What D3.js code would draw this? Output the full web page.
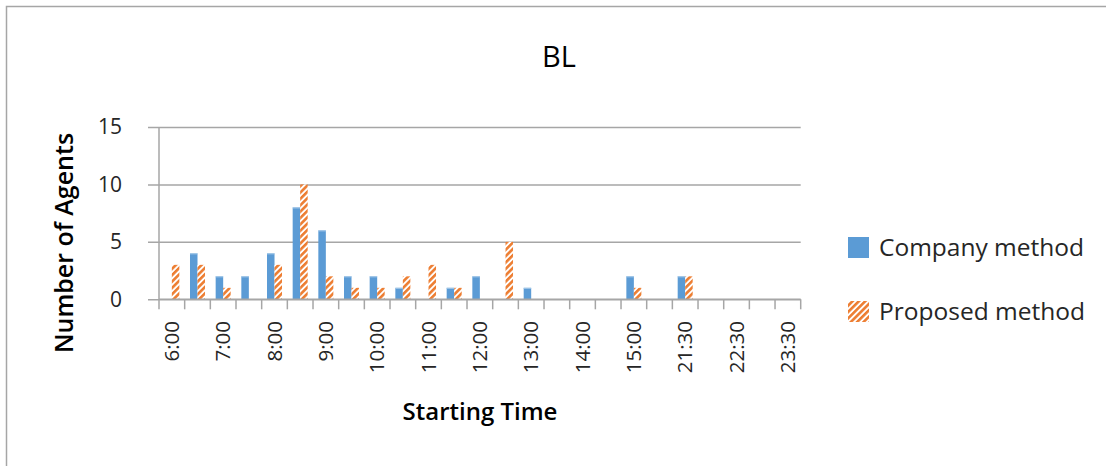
<!DOCTYPE html>
<html>
<head>
<meta charset="utf-8">
<script src="https://cdn.jsdelivr.net/npm/d3@7"></script>
<style>
  html, body { margin: 0; padding: 0; background: #fff; }
  svg { display: block; }
  text { font-family: "Open Sans", "Noto Sans", sans-serif; }
</style>
</head>
<body>
<svg id="chart" width="1106" height="469"></svg>
<script>
// Half-hour starting slots (only every second one gets a printed label)
const categories = [
  "6:00", "6:30", "7:00", "7:30", "8:00", "8:30", "9:00", "9:30",
  "10:00", "10:30", "11:00", "11:30", "12:00", "12:30", "13:00", "13:30",
  "14:00", "14:30", "15:00", "16:00", "21:30", "22:00", "22:30", "23:00", "23:30"
];
const seriesNames = ["Company method", "Proposed method"];
const companyValues = [0, 4, 2, 2, 4, 8, 6, 2, 2, 1, 0, 1, 2, 0, 1, 0, 0, 0, 2, 0, 2, 0, 0, 0, 0];
const proposedValues = [3, 3, 1, 0, 3, 10, 2, 1, 1, 2, 3, 1, 0, 5, 0, 0, 0, 0, 1, 0, 2, 0, 0, 0, 0];
const yTicks = [0, 5, 10, 15];
const chartTitle = "BL";
const xTitle = "Starting Time";
const yTitle = "Number of Agents";

const svg = d3.select("#chart");

// Hatched fill for the proposed series
const defs = svg.append("defs");
const pat = defs.append("pattern")
  .attr("id", "hatch")
  .attr("patternUnits", "userSpaceOnUse")
  .attr("width", 4.5).attr("height", 4.5)
  .attr("patternTransform", "rotate(45)");
pat.append("rect").attr("width", 4.5).attr("height", 4.5).attr("fill", "#fff");
pat.append("rect").attr("x", 0).attr("width", 2.6).attr("height", 4.5).attr("fill", "#ED7D31");

// Outer chart frame (left and top edges)
svg.append("path")
  .attr("d", "M6.5,466 V6.5 H1106")
  .attr("fill", "none").attr("stroke", "#A6A6A6").attr("stroke-width", 1.5);

const plot = { left: 159, right: 800.7, top: 127, bottom: 299.3 };

const x = d3.scaleBand().domain(categories).range([plot.left, plot.right]).padding(0);
const xs = d3.scaleBand().domain(seriesNames).range([0, x.bandwidth()]).paddingOuter(0.71).paddingInner(0);
const y = d3.scaleLinear().domain([0, 15]).range([plot.bottom, plot.top]);

// Horizontal gridlines with outside y ticks
const yAxis = d3.axisLeft(y).tickValues(yTicks).tickSize(-(plot.right - plot.left) - 11).tickFormat("");
const gy = svg.append("g").attr("transform", `translate(${plot.right},0)`).call(yAxis);
gy.select(".domain").remove();
gy.selectAll(".tick line").attr("stroke", "#A6A6A6").attr("stroke-width", 1.5)
  .attr("x1", 0).attr("x2", -(plot.right - plot.left) - 11);

// y tick labels
svg.append("g").selectAll("text").data(yTicks).join("text")
  .attr("x", 122).attr("y", d => y(d)).attr("dy", "0.35em")
  .attr("text-anchor", "end").attr("font-size", 21).attr("fill", "#262626")
  .text(d => d);

// Bars
const rows = categories.map((c, i) => ({ cat: c, vals: [companyValues[i], proposedValues[i]] }));
const groups = svg.append("g").selectAll("g").data(rows).join("g")
  .attr("transform", d => `translate(${x(d.cat)},0)`);
groups.selectAll("rect").data(d => d.vals.map((v, k) => ({ key: seriesNames[k], v })).filter(e => e.v > 0)).join("rect")
  .attr("x", e => xs(e.key))
  .attr("width", xs.bandwidth())
  .attr("y", e => y(e.v))
  .attr("height", e => y(0) - y(e.v))
  .attr("fill", e => e.key === seriesNames[0] ? "#5B9BD5" : "url(#hatch)");
// light top edge on the solid bars
groups.selectAll("line.edge").data(d => d.vals[0] > 0 ? [d.vals[0]] : []).join("line")
  .attr("class", "edge")
  .attr("x1", xs(seriesNames[0])).attr("x2", xs(seriesNames[0]) + xs.bandwidth())
  .attr("y1", v => y(v) + 0.5).attr("y2", v => y(v) + 0.5)
  .attr("stroke", "#A9CBEA").attr("stroke-width", 1);

// x axis: baseline, vertical axis line and category boundary ticks
const xAxisG = svg.append("g");
xAxisG.append("line")
  .attr("x1", plot.left).attr("x2", plot.right).attr("y1", y(0)).attr("y2", y(0))
  .attr("stroke", "#A6A6A6").attr("stroke-width", 1.5);
const bounds = categories.map(c => x(c)).concat([plot.right]);
xAxisG.selectAll("line.tk").data(bounds).join("line")
  .attr("class", "tk")
  .attr("x1", d => d).attr("x2", d => d)
  .attr("y1", d => d === plot.left ? plot.top : y(0)).attr("y2", y(0) + 10)
  .attr("stroke", "#A6A6A6").attr("stroke-width", 1.5);

// x tick labels, every second slot
svg.append("g").selectAll("text").data(categories.filter((c, i) => i % 2 === 0)).join("text")
  .attr("transform", d => `translate(${x(d) + x.bandwidth() / 2},321) rotate(-90)`)
  .attr("dy", "0.35em").attr("text-anchor", "end")
  .attr("font-size", 20.5).attr("fill", "#262626")
  .text(d => d);

// Titles
svg.append("text").attr("x", 559).attr("y", 67).attr("text-anchor", "middle")
  .attr("font-family", "Liberation Sans, Arial, sans-serif")
  .attr("font-size", 29).attr("fill", "#000").text(chartTitle);
svg.append("text").attr("x", 480).attr("y", 420).attr("text-anchor", "middle")
  .attr("font-size", 24).attr("font-weight", 600).attr("fill", "#000").text(xTitle);
svg.append("text").attr("transform", "translate(73,243) rotate(-90)").attr("text-anchor", "middle")
  .attr("font-size", 25).attr("font-weight", 600).attr("fill", "#000").text(yTitle);

// Legend
const legend = svg.append("g");
const legendY = [247, 311];
seriesNames.forEach((name, k) => {
  legend.append("rect").attr("x", 848).attr("y", legendY[k] - 10).attr("width", 21).attr("height", 21)
    .attr("fill", k === 0 ? "#5B9BD5" : "url(#hatch)");
  legend.append("text").attr("x", 879).attr("y", legendY[k]).attr("dy", "0.35em")
    .attr("font-size", 24.5).attr("fill", "#262626").text(name);
});
</script>
</body>
</html>
